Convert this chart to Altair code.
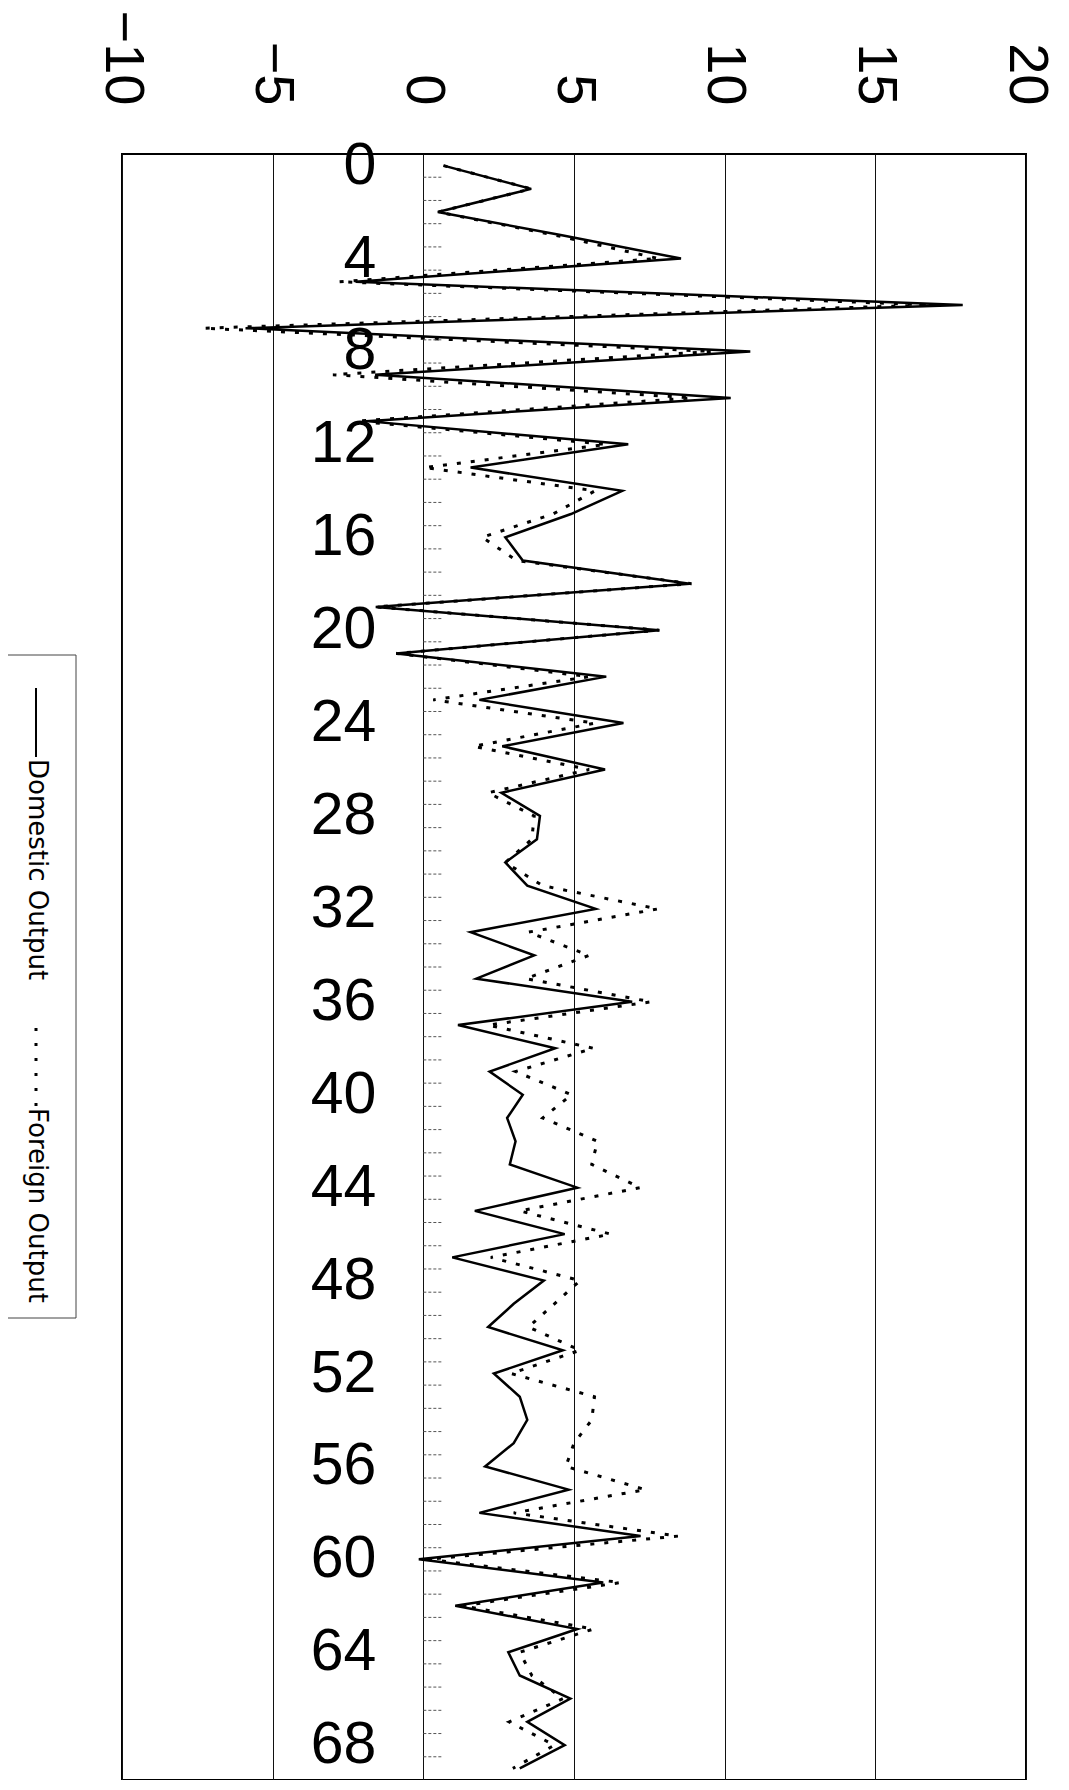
import altair as alt
import pandas as pd

# ---------------- data ----------------
categories = list(range(70))

domestic = [0.67, 3.58, 0.48, 4.6, 8.55, -2.25, 17.9, -5.9, 10.85, -1.6,
            10.2, -1.9, 6.8, 1.57, 6.6, 4.9, 2.72, 3.3, 8.84, -1.58,
            7.83, -0.9, 6.07, 1.86, 6.64, 2.62, 6.03, 2.59, 3.87, 3.77,
            2.72, 3.45, 5.72, 1.57, 3.68, 1.76, 6.93, 1.15, 4.38, 2.2,
            3.3, 2.78, 3.06, 2.87, 5.11, 1.71, 4.69, 0.96, 4.0, 3.0,
            2.15, 4.63, 2.34, 3.2, 3.45, 3.0, 2.05, 4.82, 1.86, 7.21,
            -0.15, 5.97, 1.06, 5.11, 2.82, 3.2, 4.88, 3.45, 4.69, 3.2]

foreign = [0.67, 3.58, 0.48, 4.4, 7.8, -2.8, 16.8, -7.3, 9.6, -3.0,
           8.9, -2.2, 6.07, 0.04, 5.7, 4.3, 1.95, 3.1, 8.9, -1.58,
           7.83, -0.9, 5.5, 0.33, 5.7, 1.67, 5.5, 2.15, 3.68, 3.6,
           2.72, 3.96, 7.79, 3.49, 5.5, 3.4, 7.56, 2.15, 5.65, 3.06,
           4.92, 3.96, 5.78, 5.59, 7.2, 3.2, 6.22, 2.24, 5.2, 4.35,
           3.49, 5.2, 2.91, 5.68, 5.59, 5.0, 4.73, 7.37, 3.0, 8.46,
           0.14, 6.55, 1.29, 5.65, 3.2, 3.6, 4.63, 2.85, 4.35, 2.97]

value_ticks = [-10, -5, 0, 5, 10, 15, 20]
category_labels = list(range(0, 70, 4))
series_names = ["Domestic Output", "Foreign Output"]

# ---------------- tables ----------------
dom_df = pd.DataFrame({"cat": categories, "value": domestic})
for_df = pd.DataFrame({"cat": categories, "value": foreign})
tick_df = pd.DataFrame({"b": [c + 0.5 for c in categories[:-1]], "value": 0.0, "x1": 0.6})
lab_df = pd.DataFrame({"cat": category_labels, "value": 0.0,
                       "label": [str(c) for c in category_labels]})
one = pd.DataFrame({"k": [0]})

W, H = 904, 1626
PAD_LEFT = 114
xs = alt.Scale(domain=[-10, 20], nice=False, zero=False)
ys = alt.Scale(domain=[-0.5, 69.5], nice=False, zero=False, reverse=True)

x_axis = alt.Axis(orient="top", values=value_ticks, format="d", labelAngle=90,
                  labelAlign="right", labelBaseline="middle", labelPadding=49,
                  ticks=False, domain=False, grid=True, gridColor="#111",
                  gridWidth=1, gridOpacity=1, labelFont="Liberation Sans",
                  labelFontSize=56, labelColor="#000", title=None)

X = alt.X("value:Q", scale=xs, axis=x_axis)

foreign_line = alt.Chart(for_df).mark_line(
    color="black", strokeWidth=3, strokeDash=[4, 10]
).encode(
    x=X,
    y=alt.Y("cat:Q", scale=ys, axis=None),
    order="cat:Q",
)

domestic_line = alt.Chart(dom_df).mark_line(
    color="black", strokeWidth=2.5
).encode(
    x=X,
    y=alt.Y("cat:Q", scale=ys, axis=None),
    order="cat:Q",
)

cat_ticks = alt.Chart(tick_df).mark_rule(
    color="#555", strokeWidth=1, strokeDash=[3, 2]
).encode(
    x=X,
    x2="x1:Q",
    y=alt.Y("b:Q", scale=ys, axis=None),
)

cat_text = alt.Chart(lab_df).mark_text(
    align="right", baseline="middle", dx=-47, font="Liberation Sans",
    fontSize=59, color="black"
).encode(
    x=X,
    y=alt.Y("cat:Q", scale=ys, axis=None),
    text="label:N",
)

# ---------------- legend (manual, rotated like the reference) ----------------
leg_box = alt.Chart(one).mark_rect(
    fill=None, stroke="#444", strokeWidth=1
).encode(
    x=alt.value(-PAD_LEFT - 14), x2=alt.value(-46), y=alt.value(501), y2=alt.value(1164)
)
leg_solid = alt.Chart(one).mark_rule(color="black", strokeWidth=2).encode(
    x=alt.value(-86), y=alt.value(534), y2=alt.value(603)
)
leg_dot = alt.Chart(one).mark_rule(color="black", strokeWidth=3, strokeDash=[3, 12]).encode(
    x=alt.value(-86), y=alt.value(874), y2=alt.value(953)
)
leg_t1 = alt.Chart(one).mark_text(
    angle=90, align="left", baseline="middle", font="DejaVu Sans",
    fontSize=26, color="black", text=series_names[0]
).encode(x=alt.value(-85), y=alt.value(605))
leg_t2 = alt.Chart(one).mark_text(
    angle=90, align="left", baseline="middle", font="DejaVu Sans",
    fontSize=26, color="black", text=series_names[1]
).encode(x=alt.value(-85), y=alt.value(954))

chart = alt.layer(
    foreign_line, domestic_line, cat_ticks, cat_text,
    leg_box, leg_solid, leg_dot, leg_t1, leg_t2
).properties(
    width=W, height=H,
    background="white",
    autosize=alt.AutoSizeParams(type="none"),
    padding={"left": PAD_LEFT, "top": 146, "right": 35, "bottom": 0},
).configure_view(
    stroke="black", strokeWidth=2
)

chart.save("out.html", embed_options={"renderer": "svg", "actions": False})
